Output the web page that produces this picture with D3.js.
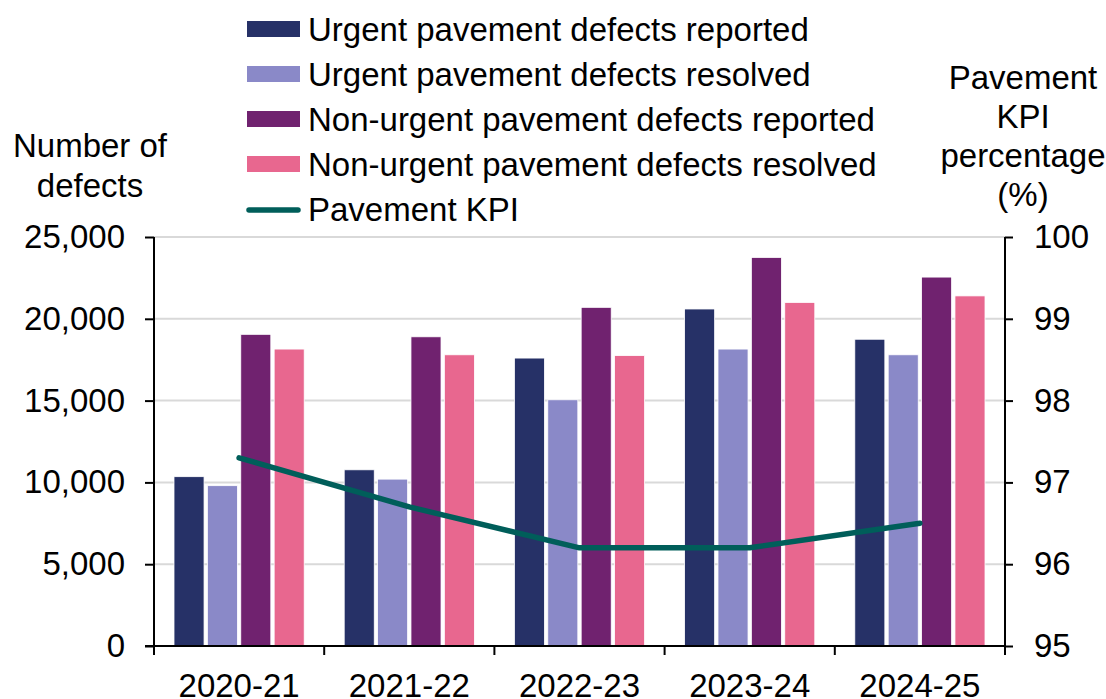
<!DOCTYPE html>
<html>
<head>
<meta charset="utf-8">
<script src="https://cdn.jsdelivr.net/npm/d3@7"></script>
<style>
  body { margin: 0; background: #fff; }
  text { font-family: "Liberation Sans", Arial, sans-serif; fill: #000; }
</style>
</head>
<body>
<svg id="chart" width="1106" height="699"></svg>
<script>
var years = ["2020-21", "2021-22", "2022-23", "2023-24", "2024-25"];

var seriesNames = [
    "Urgent pavement defects reported",
    "Urgent pavement defects resolved",
    "Non-urgent pavement defects reported",
    "Non-urgent pavement defects resolved"
];

var urgentReported    = [10350, 10770, 17600, 20600, 18750];
var urgentResolved    = [9800, 10200, 15050, 18150, 17800];
var nonUrgentReported = [19050, 18900, 20700, 23750, 22550];
var nonUrgentResolved = [18150, 17800, 17750, 21000, 21400];

var kpi = [97.3, 96.7, 96.2, 96.2, 96.5];

var leftTicks = [0, 5000, 10000, 15000, 20000, 25000];
var rightTicks = [95, 96, 97, 98, 99, 100];

var colors = ["#263167", "#8a89c8", "#70226f", "#e8678f"];
var kpiColor = "#005e5a";

var seriesValues = [urgentReported, urgentResolved, nonUrgentReported, nonUrgentResolved];

var svg = d3.select("#chart");
var fontSize = 33;

var plotLeft = 154, plotRight = 1005, plotTop = 237, plotBottom = 646;

var x0 = d3.scaleBand().domain(years).range([plotLeft, plotRight]).padding(0);
var x1 = d3.scaleBand().domain(d3.range(4)).range([20, x0.bandwidth() - 20]).paddingInner(0.1);
var yL = d3.scaleLinear().domain([0, 25000]).range([plotBottom, plotTop]);
var yR = d3.scaleLinear().domain([95, 100]).range([plotBottom, plotTop]);

// gridlines
svg.append("g").selectAll("line")
    .data(leftTicks.filter(function(d) { return d > 0; }))
    .enter().append("line")
    .attr("x1", plotLeft).attr("x2", plotRight)
    .attr("y1", function(d) { return yL(d); })
    .attr("y2", function(d) { return yL(d); })
    .attr("stroke", "#d9d9d9")
    .attr("stroke-width", 2);

// bars
var groups = svg.append("g").selectAll("g")
    .data(years)
    .enter().append("g")
    .attr("transform", function(d) { return "translate(" + x0(d) + ",0)"; });

groups.selectAll("rect")
    .data(function(d, i) { return seriesValues.map(function(s, j) { return { s: j, v: s[i] }; }); })
    .enter().append("rect")
    .attr("x", function(d) { return x1(d.s); })
    .attr("width", x1.bandwidth())
    .attr("y", function(d) { return yL(d.v); })
    .attr("height", function(d) { return plotBottom - yL(d.v); })
    .attr("fill", function(d) { return colors[d.s]; })
    .attr("stroke", "#fff")
    .attr("stroke-width", 0.8);

// KPI line
var line = d3.line()
    .x(function(d, i) { return x0(years[i]) + x0.bandwidth() / 2; })
    .y(function(d) { return yR(d); });

svg.append("path")
    .datum(kpi)
    .attr("d", line)
    .attr("fill", "none")
    .attr("stroke", kpiColor)
    .attr("stroke-width", 5.5)
    .attr("stroke-linecap", "round")
    .attr("stroke-linejoin", "round");

// axes
var axisL = svg.append("g")
    .attr("transform", "translate(" + plotLeft + ",0)")
    .call(d3.axisLeft(yL).tickValues(leftTicks).tickSize(9).tickPadding(20)
        .tickFormat(d3.format(",")));

var axisR = svg.append("g")
    .attr("transform", "translate(" + plotRight + ",0)")
    .call(d3.axisRight(yR).tickValues(rightTicks).tickSize(8).tickPadding(21)
        .tickFormat(d3.format("d")));

var axisB = svg.append("g")
    .attr("transform", "translate(0," + plotBottom + ")")
    .call(d3.axisBottom(x0).tickSize(0).tickPadding(28));

// category boundary ticks
svg.append("g").selectAll("line")
    .data(d3.range(years.length + 1))
    .enter().append("line")
    .attr("x1", function(i) { return plotLeft + i * x0.step(); })
    .attr("x2", function(i) { return plotLeft + i * x0.step(); })
    .attr("y1", plotBottom).attr("y2", plotBottom + 9)
    .attr("stroke", "#000").attr("stroke-width", 2);

[axisL, axisR, axisB].forEach(function(a) {
    a.selectAll("path").attr("stroke", "#000").attr("stroke-width", 2);
    a.selectAll("line").attr("stroke", "#000").attr("stroke-width", 2);
    a.selectAll("text")
        .style("font-family", "'Liberation Sans', Arial, sans-serif")
        .style("font-size", fontSize + "px")
        .attr("fill", "#000");
});
axisL.select("path").attr("d", "M0," + plotBottom + "V" + plotTop);
axisR.select("path").attr("d", "M0," + plotBottom + "V" + plotTop);
axisB.select("path").attr("d", "M" + (plotLeft - 9) + ",0H" + plotRight);
axisB.selectAll("text").attr("dy", "0.71em");

// axis titles
svg.append("text")
    .attr("text-anchor", "middle")
    .style("font-size", fontSize + "px")
    .selectAll("tspan")
    .data(["Number of", "defects"])
    .enter().append("tspan")
    .attr("x", 90)
    .attr("y", function(d, i) { return 157 + i * 40; })
    .text(function(d) { return d; });

svg.append("text")
    .attr("text-anchor", "middle")
    .style("font-size", fontSize + "px")
    .selectAll("tspan")
    .data(["Pavement", "KPI", "percentage", "(%)"])
    .enter().append("tspan")
    .attr("x", 1023)
    .attr("y", function(d, i) { return 89 + i * 39; })
    .text(function(d) { return d; });

// legend
var legendNames = seriesNames.concat(["Pavement KPI"]);
var legend = svg.append("g").selectAll("g")
    .data(legendNames)
    .enter().append("g")
    .attr("transform", function(d, i) { return "translate(247," + (29 + i * 45) + ")"; });

legend.each(function(d, i) {
    var g = d3.select(this);
    if (i < 4) {
        g.append("rect")
            .attr("x", 0).attr("y", -8)
            .attr("width", 53).attr("height", 16)
            .attr("fill", colors[i]);
    } else {
        g.append("line")
            .attr("x1", 2).attr("x2", 51)
            .attr("y1", 1).attr("y2", 1)
            .attr("stroke", kpiColor)
            .attr("stroke-width", 5.5)
            .attr("stroke-linecap", "round");
    }
    g.append("text")
        .attr("x", 61)
        .attr("y", 0)
        .attr("dy", "0.36em")
        .style("font-size", fontSize + "px")
        .text(d);
});
</script>
</body>
</html>
